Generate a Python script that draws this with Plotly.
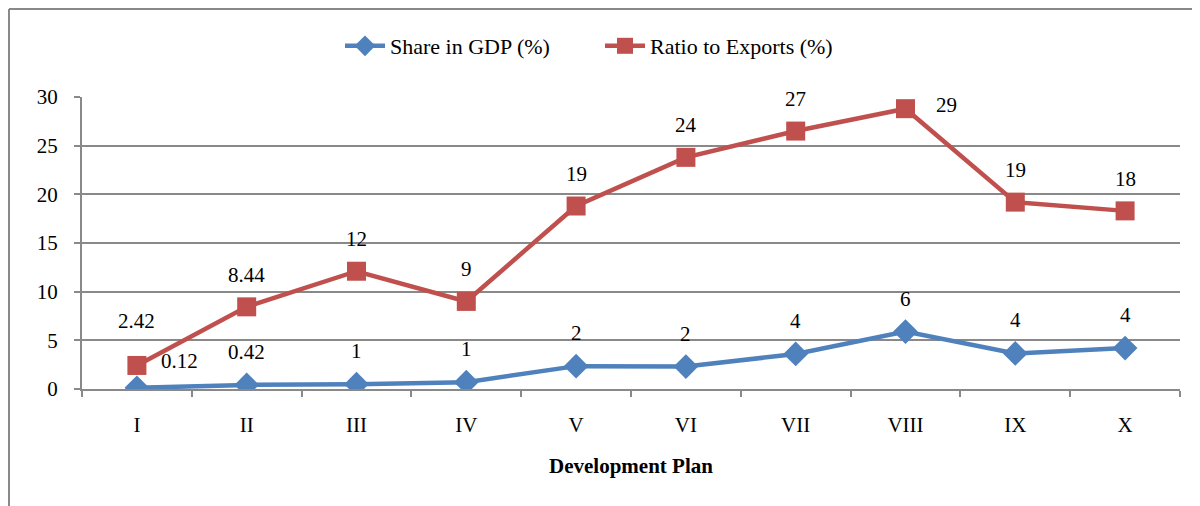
import plotly.graph_objects as go

plans = ["I", "II", "III", "IV", "V", "VI", "VII", "VIII", "IX", "X"]
gdp_share = [0.12, 0.42, 0.5, 0.7, 2.35, 2.3, 3.6, 5.9, 3.65, 4.2]
gdp_labels = ["0.12", "0.42", "1", "1", "2", "2", "4", "6", "4", "4"]
export_ratio = [2.42, 8.44, 12.1, 9.0, 18.8, 23.8, 26.5, 28.8, 19.2, 18.3]
export_labels = ["2.42", "8.44", "12", "9", "19", "24", "27", "29", "19", "18"]

BLUE = "#4F81BD"
RED = "#C0504D"
GREY = "#898989"
FONT = "Liberation Serif"
FS = 21

# page offset (body margin) and figure size
OFF = 8
W, H = 1200 - OFF, 506 - OFF
L, T, PW, PH = 82 - OFF, 97 - OFF, 1098, 292


def px(x):
    return (x - OFF - L) / PW


def py(y):
    return (T + PH - (y - OFF)) / PH


fig = go.Figure()
fig.add_trace(go.Scatter(
    x=plans, y=gdp_share, mode="lines+markers", name="Share in GDP (%)",
    line=dict(color=BLUE, width=4.5),
    marker=dict(symbol="diamond", size=19, color=BLUE),
))
fig.add_trace(go.Scatter(
    x=plans, y=export_ratio, mode="lines+markers", name="Ratio to Exports (%)",
    line=dict(color=RED, width=4.5),
    marker=dict(symbol="square", size=19, color=RED),
))

# data labels (offsets in pixels)
gdp_shift = {0: (43, 27)}
exp_shift = {0: (0, 44), 7: (41, 4)}
for i, (p, v, t) in enumerate(zip(plans, gdp_share, gdp_labels)):
    dx, dy = gdp_shift.get(i, (0, 33))
    fig.add_annotation(x=p, y=v, text=t, showarrow=False, xshift=dx, yshift=dy,
                       font=dict(family=FONT, size=FS, color="black"))
for i, (p, v, t) in enumerate(zip(plans, export_ratio, export_labels)):
    dx, dy = exp_shift.get(i, (0, 32))
    fig.add_annotation(x=p, y=v, text=t, showarrow=False, xshift=dx, yshift=dy,
                       font=dict(family=FONT, size=FS, color="black"))

# outer frame (top and left edges)
fig.add_shape(type="line", xref="paper", yref="paper", x0=px(9), x1=px(1210), y0=py(9), y1=py(9),
              line=dict(color=GREY, width=2))
fig.add_shape(type="line", xref="paper", yref="paper", x0=px(9), x1=px(9), y0=py(9), y1=py(520),
              line=dict(color=GREY, width=2))

fig.update_layout(
    width=W, height=H,
    margin=dict(l=L, r=W - L - PW, t=T, b=H - T - PH),
    paper_bgcolor="white", plot_bgcolor="white",
    font=dict(family=FONT, size=FS, color="black"),
    showlegend=True,
    legend=dict(orientation="h", x=px(600), xanchor="center", y=py(46), yanchor="middle",
                font=dict(family=FONT, size=22), itemwidth=40,
                entrywidth=205, entrywidthmode="pixels",
                bgcolor="rgba(0,0,0,0)"),
    xaxis=dict(
        type="category", showgrid=False, showline=True, linecolor=GREY, linewidth=2,
        ticks="outside", tickson="boundaries", ticklen=6, tickcolor=GREY, tickwidth=2,
        ticklabelstandoff=16, tickfont=dict(family=FONT, size=FS),
        title=dict(text="<b>Development Plan</b>", font=dict(family=FONT, size=FS), standoff=22),
        range=[-0.5, 9.5], fixedrange=True,
    ),
    yaxis=dict(
        range=[0, 30], dtick=5, showgrid=True, gridcolor=GREY, gridwidth=1.5,
        showline=True, linecolor=GREY, linewidth=2, zeroline=False,
        ticks="outside", ticklen=6, tickcolor=GREY, tickwidth=2,
        ticklabelstandoff=12, tickfont=dict(family=FONT, size=FS), fixedrange=True,
    ),
)

fig.write_html("out.html")
